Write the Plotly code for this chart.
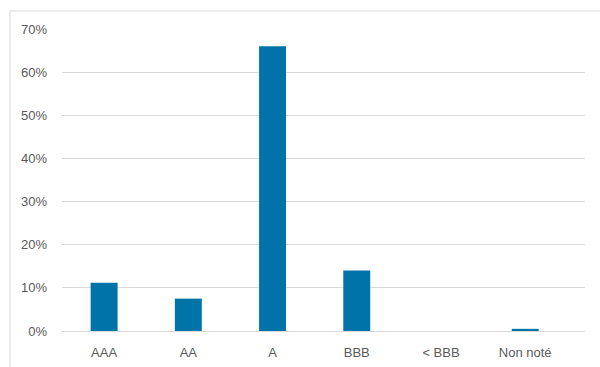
import plotly.graph_objects as go

categories = ["AAA", "AA", "A", "BBB", "< BBB", "Non noté"]
values = [0.112, 0.075, 0.660, 0.140, 0.0, 0.005]
y_ticks = [0, 0.1, 0.2, 0.3, 0.4, 0.5, 0.6, 0.7]

fig = go.Figure(go.Bar(
    x=list(range(len(categories))), y=values,
    marker=dict(color="#0074A8", line=dict(width=0)),
    width=0.32,
))

fig.update_layout(
    width=600, height=367,
    margin=dict(l=62, r=15, t=29, b=36),
    paper_bgcolor="white", plot_bgcolor="white",
    showlegend=False,
    font=dict(family="Liberation Sans, Arial, sans-serif", size=13, color="#595959"),
    xaxis=dict(
        tickmode="array", tickvals=list(range(len(categories))), ticktext=categories,
        range=[-0.5, 5.71], showgrid=False, zeroline=False, showline=False,
        ticks="", ticklen=0, ticklabelstandoff=12, automargin=False,
    ),
    yaxis=dict(
        range=[0, 0.7], tickvals=y_ticks, tickformat=".0%",
        showgrid=True, gridcolor="#d9d9d9", gridwidth=1,
        zeroline=True, zerolinecolor="#d9d9d9", zerolinewidth=1,
        showline=False, ticks="", ticklabelstandoff=14, automargin=False,
    ),
    shapes=[
        dict(type="line", xref="paper", yref="paper",
             x0=-52/523, x1=1.1, y0=1 + 18/302, y1=1 + 18/302,
             line=dict(color="#d9d9d9", width=1)),
        dict(type="line", xref="paper", yref="paper",
             x0=-52/523, x1=-52/523, y0=1 + 18/302, y1=-0.2,
             line=dict(color="#d9d9d9", width=1)),
    ],
)

fig.write_html("out.html")
